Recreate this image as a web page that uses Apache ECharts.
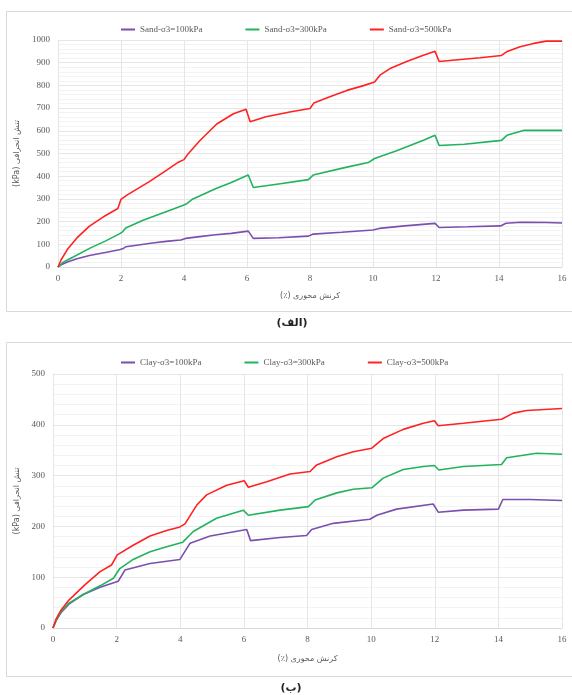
<!DOCTYPE html>
<html><head><meta charset="utf-8">
<script src="https://cdn.jsdelivr.net/npm/echarts@6/dist/echarts.min.js"></script>
<style>html,body{margin:0;padding:0;background:#fff}#c{width:572px;height:695px}</style>
</head><body><div id="c"></div>
<script>
// Data (strain %, deviator stress kPa)
const sand100 = [[0,0],[0.1,10],[0.3,22],[0.6,36],[1,51],[1.5,64],[1.95,76],[2.05,80],[2.15,89],[2.5,96],[3,106],[3.5,114],[3.9,119],[4.05,126],[4.5,134],[5,142],[5.5,148],[6.04,158],[6.2,126],[7,129],[7.95,136],[8.1,145],[9,153],[10,163],[10.2,170],[11,181],[11.97,192],[12.1,174],[13,177],[14.05,181],[14.22,193],[14.7,197],[15.5,196],[16,194]];
const sand300 = [[0,0],[0.15,20],[0.5,45],[1,82],[1.5,114],[1.95,146],[2.05,155],[2.15,172],[2.7,206],[3.45,244],[3.98,272],[4.1,280],[4.25,297],[5,345],[5.5,372],[6.04,405],[6.2,350],[7,366],[7.95,385],[8.1,405],[9.17,440],[9.85,460],[10.05,478],[10.75,512],[11.6,558],[11.97,580],[12.1,535],[12.9,541],[14.08,558],[14.25,580],[14.8,602],[16,602]];
const sand500 = [[0,0],[0.1,32],[0.3,78],[0.6,128],[1,180],[1.5,226],[1.9,258],[2.0,298],[2.2,318],[2.9,376],[3.45,427],[3.8,460],[4.0,473],[4.1,493],[4.5,556],[5.04,630],[5.57,675],[5.97,695],[6.1,640],[6.6,662],[7.4,684],[8.0,698],[8.12,722],[8.63,750],[9.17,778],[9.7,799],[10.05,815],[10.22,845],[10.54,874],[11.07,905],[11.6,933],[11.97,950],[12.1,905],[12.87,915],[13.4,922],[14.08,932],[14.24,948],[14.67,970],[15.1,985],[15.5,995],[16,995]];
const clay100 = [[0,0],[0.1,15],[0.25,30],[0.5,47],[0.95,66],[1.48,80],[2.05,92],[2.26,114],[3.05,127],[3.99,135],[4.31,167],[4.94,181],[6.09,194],[6.21,172],[7.14,178],[7.97,182],[8.13,194],[8.81,206],[9.96,214],[10.18,222],[10.8,234],[11.95,244],[12.11,228],[12.9,232],[14.0,234],[14.14,253],[15,253],[16,251]];
const clay300 = [[0,0],[0.1,15],[0.25,32],[0.5,49],[0.95,66],[1.48,83],[1.9,98],[2.1,117],[2.52,135],[3.05,150],[3.57,160],[4.08,169],[4.41,190],[5.14,216],[5.98,232],[6.14,222],[7.14,232],[8.03,239],[8.24,252],[8.92,266],[9.44,273],[10.02,276],[10.38,295],[11.01,312],[11.64,318],[11.99,320],[12.13,311],[12.9,318],[14.1,322],[14.26,335],[15.2,344],[16,342]];
const clay500 = [[0,0],[0.1,18],[0.25,35],[0.5,55],[1,85],[1.48,111],[1.84,124],[2.02,144],[2.52,163],[3.05,181],[3.57,192],[3.99,199],[4.15,205],[4.36,226],[4.52,242],[4.83,262],[5.46,281],[6.01,290],[6.14,277],[6.72,288],[7.45,303],[8.08,308],[8.29,321],[8.92,337],[9.44,347],[10.02,354],[10.38,373],[11.01,391],[11.64,403],[11.99,408],[12.11,398],[12.9,403],[14.1,411],[14.47,423],[14.89,428],[16,432]];
const sandNames = ['Sand-σ3=100kPa','Sand-σ3=300kPa','Sand-σ3=500kPa'];
const clayNames = ['Clay-σ3=100kPa','Clay-σ3=300kPa','Clay-σ3=500kPa'];
const xTitle = '(٪) کرنش محوری';
const yTitle = '(kPa) تنش انحرافی';
const captions = ['(الف)','(ب)'];

const colors = ['#7b4fae','#22b35e','#ff2222'];
const serif = 'Liberation Serif, DejaVu Sans, serif';
const txt = '#595959';

function xAx(gi, gap){
  return {gridIndex:gi,type:'value',min:0,max:16,interval:2,
    axisLine:{show:true,lineStyle:{color:'#d9d9d9'}},axisTick:{show:false},
    axisLabel:{color:txt,fontFamily:serif,fontSize:9,margin:7,formatter:v=>String(v)},
    splitLine:{show:true,lineStyle:{color:'#e6e6e6'}},
    name:xTitle,nameLocation:'middle',nameGap:gap,
    nameTextStyle:{color:txt,fontFamily:'DejaVu Sans, serif',fontSize:8}};
}
function yAx(gi, max, gap){
  return {gridIndex:gi,type:'value',min:0,max:max,interval:100,
    axisLine:{show:false},axisTick:{show:false},
    axisLabel:{color:txt,fontFamily:serif,fontSize:9,margin:8,formatter:v=>String(v)},
    splitLine:{show:true,lineStyle:{color:'#e6e6e6'}},
    minorTick:{show:false,splitNumber:5},
    minorSplitLine:{show:true,lineStyle:{color:'#f3f3f3'}},
    name:yTitle,nameLocation:'middle',nameGap:gap,
    nameTextStyle:{color:txt,fontFamily:'DejaVu Sans, serif',fontSize:8}};
}
function ser(name, data, gi, ci){
  return {name:name,type:'line',xAxisIndex:gi,yAxisIndex:gi,data:data,
    showSymbol:false,symbol:'none',smooth:false,
    lineStyle:{color:colors[ci],width:1.6},itemStyle:{color:colors[ci]},z:2+ci};
}
function leg(gi, names, top){
  return {data:names,left:121,top:top,itemGap:43,itemWidth:14,itemHeight:2,icon:'rect',
    textStyle:{color:txt,fontFamily:serif,fontSize:9},padding:0};
}

const chart = echarts.init(document.getElementById('c'),null,{renderer:'canvas'});
chart.setOption({
  animation:false,
  backgroundColor:'#fff',
  grid:[{left:58,top:40,width:504,height:227},{left:53,top:374,width:509,height:254}],
  xAxis:[xAx(0,25),xAx(1,27)],
  yAxis:[yAx(0,1000,35),yAx(1,500,31)],
  legend:[leg(0,sandNames,25),leg(1,clayNames,358)],
  series:[ser(sandNames[0],sand100,0,0),ser(sandNames[1],sand300,0,1),ser(sandNames[2],sand500,0,2),
          ser(clayNames[0],clay100,1,0),ser(clayNames[1],clay300,1,1),ser(clayNames[2],clay500,1,2)],
  graphic:[
    {type:'rect',shape:{x:6.5,y:11.5,width:580,height:300},style:{fill:'none',stroke:'#d9d9d9',lineWidth:1},z:-1},
    {type:'rect',shape:{x:6.5,y:342.5,width:580,height:334},style:{fill:'none',stroke:'#d9d9d9',lineWidth:1},z:-1},
    {type:'text',x:292,y:323,style:{text:captions[0],font:'bold 11px DejaVu Sans',fill:'#222',align:'center',verticalAlign:'middle'}},
    {type:'text',x:291,y:688,style:{text:captions[1],font:'bold 11px DejaVu Sans',fill:'#222',align:'center',verticalAlign:'middle'}}
  ]
});
</script></body></html>
